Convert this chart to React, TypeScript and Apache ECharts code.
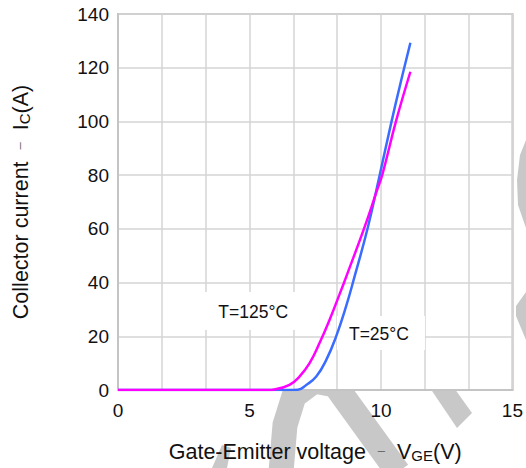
import React, { useEffect, useRef } from "react";
import * as echarts from "echarts";

// Axis ticks
const xTickLabels = [0, 5, 10, 15];
const yMax = 140;
const yStep = 20;

// T = 25°C curve (VGE in V, IC in A)
const vge25 = [0, 6.5, 6.84, 7.16, 7.54, 7.92, 8.29, 8.67, 8.99, 9.5, 9.94, 10.38, 10.75, 11.12];
const ic25 = [0, 0, 0.1, 1.9, 5, 11.2, 19.8, 31, 42, 60.5, 79.5, 99, 114.5, 129.3];

// T = 125°C curve
const vge125 = [0, 5.7, 5.95, 6.52, 6.9, 7.28, 7.66, 8.04, 8.42, 8.73, 9.39, 9.82, 10.06, 10.57, 11.12];
const ic125 = [0, 0, 0.2, 1.9, 5, 9.9, 17.4, 26, 35.5, 43.5, 61, 73.5, 80.5, 100, 118.5];

// Curve annotations (data coordinates)
const annoText = ["T=125°C", "T=25°C"];
const annoX = [4.95, 10.0];
const annoY = [29.4, 21.2];

const FONT = "'Liberation Sans', Arial, Helvetica, sans-serif";
const WM = "#c8c8c8";

export default function App() {
  const ref = useRef<HTMLDivElement>(null);
  useEffect(() => {
    if (!ref.current) return;
    const chart = echarts.init(ref.current, undefined, { renderer: "svg" });
    const pair = (xs: number[], ys: number[]) => xs.map((x, i) => [x, ys[i]]);
    const rich = {
      m: { fontSize: 21.5, color: "#111", fontFamily: FONT, lineHeight: 26, verticalAlign: "bottom" },
      d: { fontSize: 13, color: "#666", fontFamily: FONT, lineHeight: 26, verticalAlign: "bottom", padding: [0, 0, 6, 0] },
      s: { fontSize: 15, color: "#111", fontFamily: FONT, lineHeight: 17, verticalAlign: "bottom" },
    };
    chart.setOption({
      animation: false,
      backgroundColor: "#fff",
      textStyle: { fontFamily: FONT },
      graphic: {
        elements: [
          {
            type: "polyline",
            z: -10,
            shape: { points: [[281, 472], [285, 425], [294, 396], [314, 381], [335, 385], [398, 472]] },
            style: { stroke: WM, lineWidth: 25, fill: null },
          },
          {
            type: "polygon",
            z: -10,
            shape: { points: [[428, 385], [452, 385], [472, 413], [457, 428]] },
            style: { fill: WM },
          },
          {
            type: "polygon",
            z: -10,
            shape: { points: [[212, 468], [222, 445], [231, 448], [227, 468]] },
            style: { fill: WM },
          },
          {
            type: "polygon",
            z: -10,
            shape: { points: [[526, 140], [520, 155], [517, 180], [518, 205], [526, 228]] },
            style: { fill: WM },
          },
          {
            type: "polygon",
            z: -10,
            shape: { points: [[526, 292], [516, 306], [516, 316], [526, 340]] },
            style: { fill: WM },
          },
        ],
      },
      grid: {
        left: 118,
        right: 13,
        top: 14,
        bottom: 78,
        show: true,
        backgroundColor: "#fff",
        borderColor: "#c4c4c4",
        borderWidth: 2,
        z: 0,
      },
      xAxis: {
        type: "value",
        min: 0,
        max: 15,
        interval: 15 / 9,
        axisLine: { show: true, lineStyle: { color: "#c4c4c4", width: 2 } },
        axisTick: { show: false },
        splitLine: { show: true, lineStyle: { color: "#d4d4d4", width: 1.5 } },
        axisLabel: {
          fontSize: 19,
          color: "#111",
          margin: 11,
          fontFamily: FONT,
          formatter: (v: number) => {
            const r = Math.round(v);
            return Math.abs(v - r) < 1e-6 && xTickLabels.includes(r) ? String(r) : "";
          },
        },
        name: "{m|Gate-Emitter voltage  }{d|–}{m|  V}{s|GE}{m|(V)}",
        nameLocation: "middle",
        nameGap: 47,
        nameTextStyle: { fontFamily: FONT, rich },
      },
      yAxis: {
        type: "value",
        min: 0,
        max: yMax,
        interval: yStep,
        axisLine: { show: true, lineStyle: { color: "#c4c4c4", width: 2 } },
        axisTick: { show: false },
        splitLine: { show: true, lineStyle: { color: "#d4d4d4", width: 1.5 } },
        axisLabel: { fontSize: 19, color: "#111", margin: 9, fontFamily: FONT },
        name: "{m|Collector current  }{d|–}{m|  I}{s|C}{m|(A)}",
        nameLocation: "middle",
        nameGap: 86,
        nameRotate: 90,
        nameTextStyle: { fontFamily: FONT, rich },
      },
      series: [
        {
          type: "scatter",
          z: 1,
          silent: true,
          data: annoText.map((t, i) => ({
            value: [annoX[i], annoY[i]],
            symbolSize: i === 0 ? [96, 38] : [88, 34],
            label: { formatter: t, offset: i === 0 ? [5, 1] : [-2, 1] },
          })),
          symbol: "rect",
          itemStyle: { color: "#fff", opacity: 1 },
          label: { show: true, position: "inside", color: "#111", fontSize: 17.5, fontFamily: FONT },
        },
        {
          type: "line",
          name: "T=25°C",
          z: 3,
          data: pair(vge25, ic25),
          smooth: 0.45,
          showSymbol: false,
          lineStyle: { color: "#3a6cff", width: 2.5 },
        },
        {
          type: "line",
          name: "T=125°C",
          z: 4,
          data: pair(vge125, ic125),
          smooth: 0.45,
          showSymbol: false,
          lineStyle: { color: "#ff00ff", width: 2.5 },
        },
      ],
    });
    return () => chart.dispose();
  }, []);
  return (
    <div
      ref={ref}
      style={{ position: "fixed", left: 0, top: 0, width: 526, height: 468, background: "#fff" }}
    />
  );
}
